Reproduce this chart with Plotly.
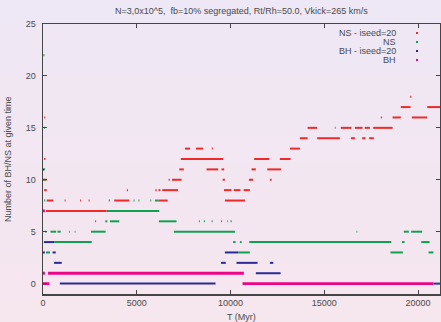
import plotly.graph_objects as go

# ---------------- data: horizontal runs (start T, end T, count) ----------------
NS_I20_START = [60, 60, 7350, 11260, 12630, 7270, 8720, 9520, 11120, 11960,
                60, 6700, 6880, 9580, 10980, 12100,
                60, 4470, 5990, 6160, 6360, 9650, 10170, 10700,
                200, 1150, 1980, 2430, 3800, 6150, 9700,
                160,
                7570, 8160, 9000, 13170,
                13700, 14620, 16420, 17020, 17390,
                14110, 15560, 15880, 16630, 17160, 17610,
                18020, 18640, 19670,
                19080, 20490,
                19580]
NS_I20_END = [120, 130, 9610, 12060, 13200, 7510, 9340, 9660, 11350, 12690,
              200, 6760, 7390, 9700, 11210, 12190,
              200, 4530, 6060, 6260, 7200, 10050, 10530, 11030,
              550, 1200, 2030, 2480, 4600, 6650, 10770,
              3400,
              7840, 8530, 9060, 13700,
              14110, 15830, 16630, 17200, 17640,
              14620, 15600, 16450, 17040, 17430, 18640,
              18080, 19080, 20490,
              19600, 21170,
              19640]
NS_I20_VAL = [16, 12, 12, 12, 12, 11, 11, 11, 11, 11,
              10, 10, 10, 10, 10, 10,
              9, 9, 9, 9, 9, 9, 9, 9,
              8, 8, 8, 8, 8, 8, 8,
              7,
              13, 13, 13, 13,
              14, 14, 14, 14, 14,
              15, 15, 15, 15, 15, 15,
              16, 16, 16,
              17, 17,
              18]

NS_START = [20, 60, 50, 0,
            60, 3510, 4830, 5090, 5720, 5970,
            3400,
            2780, 3320, 3570, 6180, 8310, 8580, 8990, 9500, 9830, 10000,
            120, 400, 770, 1400, 1690, 2560, 6980, 16720, 19240, 19630,
            590, 10140, 10500, 11000, 19140, 20170,
            160, 10410, 18530, 20560]
NS_END = [80, 110, 110, 100,
          120, 3570, 4880, 5140, 5770, 6150,
          6200,
          2830, 3430, 4070, 7120, 8360, 8630, 9040, 9550, 9870, 10060,
          190, 700, 940, 1440, 1730, 3340, 10230, 16760, 19510, 20220,
          2600, 10270, 10590, 18570, 19280, 20610,
          370, 11030, 19190, 20820]
NS_VAL = [22, 15, 11, 10,
          8, 8, 8, 8, 8, 8,
          7,
          6, 6, 6, 6, 6, 6, 6, 6, 6, 6,
          5, 5, 5, 5, 5, 5, 5, 5, 5, 5,
          4, 4, 4, 4, 4, 4,
          3, 3, 3, 3]

BH_I20_START = [0, 50, 0, 510, 9700, 590, 9490, 10320, 12100, 11350, 900, 20820]
BH_I20_END = [60, 590, 100, 680, 10410, 1000, 9750, 11440, 12280, 12670, 9200, 21170]
BH_I20_VAL = [11, 4, 3, 3, 3, 2, 2, 2, 2, 1, 0, 0]

BH_START = [0, 0, 270, 0, 10640]
BH_END = [100, 100, 10710, 340, 20820]
BH_VAL = [7, 1, 1, 0, 0]

SERIES_NAMES = ["NS - iseed=20", "NS", "BH - iseed=20", "BH"]
X_TICKS = [0, 5000, 10000, 15000, 20000]
Y_TICKS = [0, 5, 10, 15, 20, 25]

# ---------------- styling ----------------
COLORS = ["#ee2a2a", "#0fa050", "#2b2b96", "#ec0588"]
WIDTHS = [2, 2, 2, 2.8]
FONT = "Liberation Sans, Arial, sans-serif"
TEXT_COL = "#4a4a4a"
AXIS_COL = "#454545"

W, H = 441, 322
ML, MR, MT, MB = 43, 1, 24, 28
PW, PH = W - ML - MR, H - MT - MB


def runs(starts, ends, vals):
    xs, ys = [], []
    for s, e, v in zip(starts, ends, vals):
        xs += [s, e, None]
        ys += [v, v, None]
    return xs, ys


fig = go.Figure()
for (st, en, va), name, col, w in zip(
        [(NS_I20_START, NS_I20_END, NS_I20_VAL), (NS_START, NS_END, NS_VAL),
         (BH_I20_START, BH_I20_END, BH_I20_VAL), (BH_START, BH_END, BH_VAL)],
        SERIES_NAMES, COLORS, WIDTHS):
    xs, ys = runs(st, en, va)
    fig.add_trace(go.Scatter(x=xs, y=ys, mode="lines", name=name,
                             line=dict(color=col, width=w), showlegend=False,
                             connectgaps=False))

# background gradient (lavender top -> pink bottom) as paper bands
top = (238, 231, 245)
bot = (246, 230, 238)
N = 40
shapes = []
for i in range(N):
    py0 = H * i / N
    py1 = H * (i + 1) / N + 0.5
    t = (i + 0.5) / N
    c = tuple(round(top[k] + (bot[k] - top[k]) * t) for k in range(3))
    shapes.append(dict(type="rect", xref="paper", yref="paper", layer="below",
                       x0=-ML / PW - 0.01, x1=1 + MR / PW + 0.01,
                       y0=(H - MB - py1) / PH, y1=(H - MB - py0) / PH,
                       fillcolor="rgb(%d,%d,%d)" % c, line=dict(width=0)))


def px2paper(px, py):
    return (px - ML) / PW, (H - MB - py) / PH


annotations = []
# manual gnuplot-style key: right-aligned text, sample on the right
for i, (name, col) in enumerate(zip(SERIES_NAMES, COLORS)):
    py = 33 + 9 * i
    xp, yp = px2paper(398, py)
    annotations.append(dict(text=name, x=xp, y=yp, xref="paper", yref="paper",
                            xanchor="right", yanchor="middle", showarrow=False,
                            font=dict(size=9, color=TEXT_COL, family=FONT)))
    x0, y0 = px2paper(416, py + 1)
    x1, y1 = px2paper(418, py - 1)
    shapes.append(dict(type="rect", xref="paper", yref="paper", x0=x0, x1=x1,
                       y0=y0, y1=y1, fillcolor=col, line=dict(width=0)))

# title and axis titles placed like gnuplot
tx, ty = px2paper(241, 11)
annotations.append(dict(text="N=3,0x10^5,  fb=10% segregated, Rt/Rh=50.0, Vkick=265 km/s",
                        x=tx, y=ty, xref="paper", yref="paper", xanchor="center",
                        yanchor="middle", showarrow=False,
                        font=dict(size=9, color=TEXT_COL, family=FONT)))
ax_, ay_ = px2paper(241, 317)
annotations.append(dict(text="T (Myr)", x=ax_, y=ay_, xref="paper", yref="paper",
                        xanchor="center", yanchor="middle", showarrow=False,
                        font=dict(size=9, color=TEXT_COL, family=FONT)))
bx_, by_ = px2paper(8, 159)
annotations.append(dict(text="Number of BH/NS at given time", x=bx_, y=by_,
                        xref="paper", yref="paper", xanchor="center",
                        yanchor="middle", showarrow=False, textangle=-90,
                        font=dict(size=9, color=TEXT_COL, family=FONT)))

fig.update_layout(
    width=W, height=H,
    margin=dict(l=ML, r=MR, t=MT, b=MB, autoexpand=False),
    paper_bgcolor="rgb(242,230,241)",
    plot_bgcolor="rgba(0,0,0,0)",
    font=dict(family=FONT, size=9, color=TEXT_COL),
    shapes=shapes,
    annotations=annotations,
    hovermode=False,
    xaxis=dict(range=[0, 21170], tickvals=X_TICKS, ticktext=[str(v) for v in X_TICKS],
               ticks="inside", ticklen=4, tickcolor=AXIS_COL, tickwidth=1,
               showline=True, linecolor=AXIS_COL, linewidth=1.5, mirror="allticks",
               showgrid=False, zeroline=False, automargin=False,
               tickfont=dict(size=9, color=TEXT_COL)),
    yaxis=dict(range=[-1, 25], tickvals=Y_TICKS, ticktext=[str(v) for v in Y_TICKS],
               ticks="inside", ticklen=4, tickcolor=AXIS_COL, tickwidth=1,
               showline=True, linecolor=AXIS_COL, linewidth=1.5, mirror="allticks",
               showgrid=False, zeroline=False, automargin=False,
               ticklabelstandoff=4,
               tickfont=dict(size=9, color=TEXT_COL)),
)

fig.write_html("out.html", config={"displayModeBar": False, "staticPlot": True},
               post_script="document.body.style.margin='0';document.body.style.overflow='hidden';")
